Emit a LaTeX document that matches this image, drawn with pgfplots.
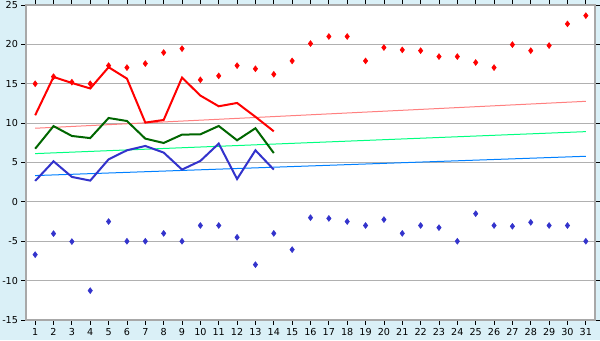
\documentclass[border=0pt]{standalone}
\usepackage{fontspec}
\setmainfont{DejaVu Sans}
\usepackage{pgfplots}
\pgfplotsset{compat=1.18}
\definecolor{bgblue}{HTML}{DAF0F7}
\definecolor{gridgray}{HTML}{B0B0B0}
\definecolor{axgray}{HTML}{A8A8A8}
\definecolor{mred}{HTML}{FF0000}
\definecolor{mgreen}{HTML}{006600}
\definecolor{mblue}{HTML}{3333CC}
\definecolor{tred}{HTML}{FF8080}
\definecolor{tgreen}{HTML}{00FF80}
\definecolor{tblue}{HTML}{0080FF}
\begin{document}
\begin{tikzpicture}
\fill[bgblue] (0,0) rectangle (450pt,255pt);
\useasboundingbox (0,0) rectangle (450pt,255pt);
\begin{axis}[
  at={(19.5pt,15pt)}, anchor=south west,
  scale only axis, width=426.75pt, height=236.25pt,
  xmin=0.5, xmax=31.5, ymin=-15, ymax=25,
  xtick={1,...,31}, ytick={-15,-10,...,25},
  axis background/.style={fill=white},
  axis line style={axgray, line width=0.9pt},
  ymajorgrids, grid style={gridgray, line width=0.75pt},
  tick style={black, line width=0.6pt},
  xtick align=outside, ytick align=outside,
  major tick length=3.5pt,
  tick label style={font=\fontsize{7.2}{8}\selectfont},
  /pgf/number format/assume math mode=true,
  xticklabel style={yshift=1pt},
  yticklabel style={xshift=1pt},
  clip=false,
]
% trend lines
\addplot[tred, line width=0.75pt] coordinates {(1,9.35) (31,12.77)};
\addplot[tgreen, line width=0.75pt] coordinates {(1,6.13) (31,8.92)};
\addplot[tblue, line width=0.75pt] coordinates {(1,3.34) (31,5.79)};
% main lines
\addplot[mred, line width=1.5pt] coordinates {
(1,11.0) (2,15.86) (3,15.1) (4,14.4) (5,17.1) (6,15.65) (7,10.07) (8,10.4) (9,15.78) (10,13.5) (11,12.14) (12,12.56) (13,10.8) (14,8.96)};
\addplot[mgreen, line width=1.5pt] coordinates {
(1,6.75) (2,9.62) (3,8.37) (4,8.1) (5,10.65) (6,10.27) (7,8.03) (8,7.48) (9,8.54) (10,8.58) (11,9.64) (12,7.82) (13,9.35) (14,6.2)};
\addplot[mblue, line width=1.5pt] coordinates {
(1,2.66) (2,5.15) (3,3.17) (4,2.7) (5,5.4) (6,6.55) (7,7.1) (8,6.26) (9,4.1) (10,5.2) (11,7.4) (12,2.9) (13,6.55) (14,4.1)};
% max markers
\addplot[only marks, mark=diamond*, mark size=2.2pt, mred] coordinates {
(1,15.0) (2,15.9) (3,15.2) (4,15.0) (5,17.3) (6,17.05) (7,17.56) (8,18.96) (9,19.46) (10,15.5)
(11,16.0) (12,17.3) (13,16.9) (14,16.2) (15,17.9) (16,20.1) (17,21.0) (18,21.0) (19,17.9) (20,19.6)
(21,19.3) (22,19.2) (23,18.45) (24,18.45) (25,17.7) (26,17.05) (27,19.97) (28,19.2) (29,19.85) (30,22.6) (31,23.65)};
% min markers
\addplot[only marks, mark=diamond*, mark size=2.2pt, mblue] coordinates {
(1,-6.7) (2,-4.03) (3,-5.04) (4,-11.27) (5,-2.5) (6,-5.0) (7,-5.0) (8,-4.0) (9,-5.0) (10,-3.0)
(11,-3.0) (12,-4.5) (13,-7.97) (14,-4.0) (15,-6.06) (16,-2.0) (17,-2.1) (18,-2.5) (19,-3.0) (20,-2.25)
(21,-4.0) (22,-3.0) (23,-3.27) (24,-5.0) (25,-1.5) (26,-3.0) (27,-3.1) (28,-2.6) (29,-3.0) (30,-3.0) (31,-5.0)};
\end{axis}
\end{tikzpicture}
\end{document}
